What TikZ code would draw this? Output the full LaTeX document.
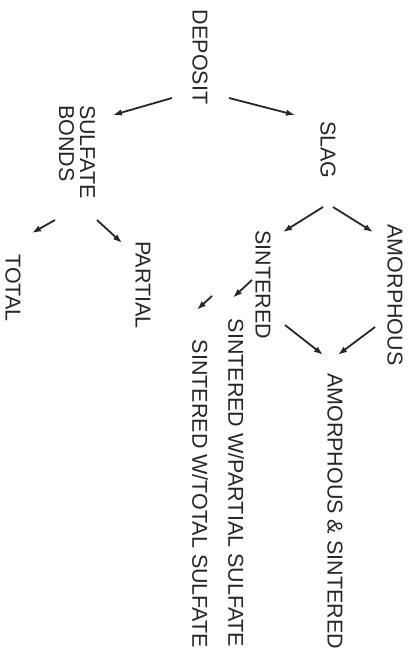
\documentclass[tikz,border=0pt]{standalone}
\usepackage{fontspec}
\setmainfont{Liberation Sans}
\usepackage{tikz}
\usetikzlibrary{arrows.meta,calc}

\begin{document}
\begin{tikzpicture}[
  x=1pt, y=-1pt,
  lbl/.style={rotate=-90, inner sep=0pt, text=black!85, font=\fontsize{21.5}{21}\selectfont},
  arr/.style={-{Latex[length=9pt,width=6.5pt]}, line width=1.8pt, black!85}
]
\useasboundingbox (0,0) rectangle (414,664);
\node[lbl] (deposit) at (200,57) {DEPOSIT};
\node[lbl, align=left] (sulfate) at (77,152) {SULFATE\\BONDS};
\node[lbl] (slag) at (328,150) {SLAG};
\node[lbl] (total) at (13,288) {TOTAL};
\node[lbl] (partial) at (143,285) {PARTIAL};
\node[lbl] (sintered) at (263,285) {SINTERED};
\node[lbl] (amorph) at (395,295) {AMORPHOUS};
\node[lbl] (swpart) at (236,483) {SINTERED W/PARTIAL SULFATE};
\node[lbl] (swtot) at (200,494) {SINTERED W/TOTAL SULFATE};
\node[lbl] (amsint) at (335,511) {AMORPHOUS \& SINTERED};
% deposit split
\draw[arr] ($(deposit)+(-28,41)$) -- ($(sulfate)+(36,-37)$);
\draw[arr] ($(deposit)+(29,41)$) -- ($(slag)+(-33,-35)$);
% sulfate bonds
\draw[arr] ($(sulfate)+(-22,68)$) -- ($(total)+(19,-55)$);
\draw[arr] ($(sulfate)+(20,68)$) -- ($(partial)+(-21,-42)$);
% slag
\draw[arr] ($(slag)+(-5,57)$) -- ($(sintered)+(20,-53)$);
\draw[arr] ($(slag)+(5,57)$) -- ($(amorph)+(-22,-63)$);
% sintered
\draw[arr] ($(sintered)+(-11,-5)$) -- ($(swpart.west)+(-3,-21)$);
\draw[arr] ($(sintered)+(-51,11)$) -- ($(swtot.west)+(-3,-30)$);
\draw[arr] ($(sintered)+(22,40)$) -- ($(amsint.west)+(-12,-18)$);
\draw[arr] ($(amorph)+(-20,32)$) -- ($(amsint.west)+(3,-18)$);
\end{tikzpicture}
\end{document}
